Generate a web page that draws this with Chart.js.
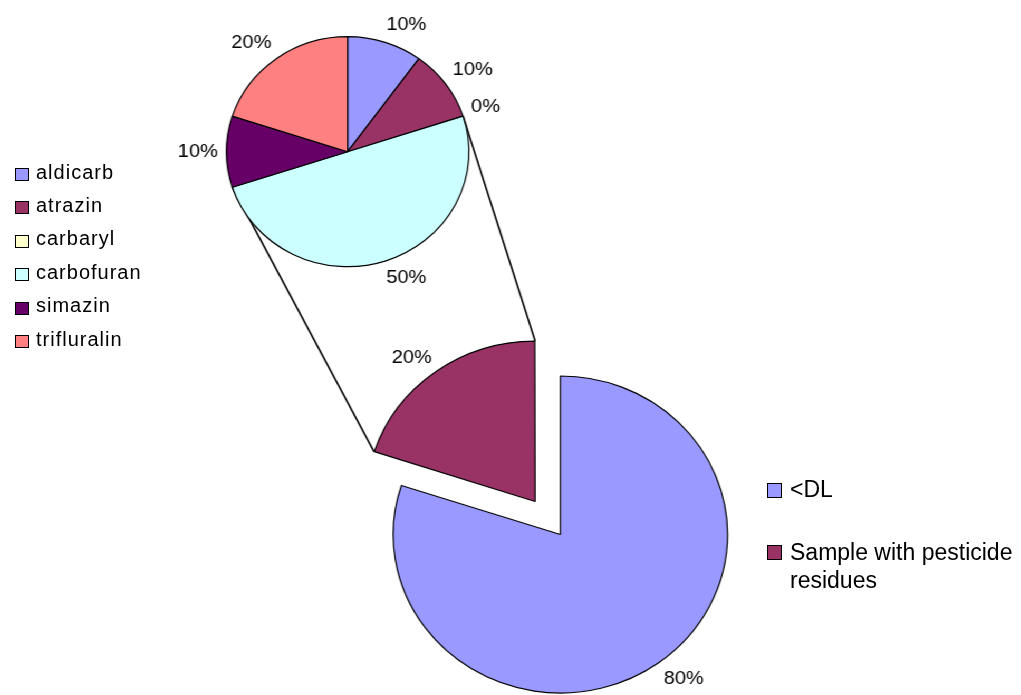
<!DOCTYPE html>
<html>
<head>
<meta charset="utf-8">
<script src="https://cdn.jsdelivr.net/npm/chart.js@4.4.1/dist/chart.umd.min.js"></script>
<style>
    body { margin: 0; background: #fff; font-family: "Liberation Sans", Arial, sans-serif; color: #000; }
    #stage { position: relative; width: 1021px; height: 695px; overflow: hidden; }
    /* the source picture is stretched a bit horizontally, so are the pies */
    #plots { position: absolute; left: 0; top: 0; width: 968px; height: 695px; transform: scaleX(1.0548); transform-origin: 0 0; }
    #plots canvas { position: absolute; left: 0; top: 0; }
    .legend-box { position: absolute; box-sizing: border-box; border: 1px solid #000; }
    .legend-text { position: absolute; white-space: normal; }
</style>
</head>
<body>
<div id="stage">
    <div id="plots">
        <canvas id="mainPie" width="968" height="695"></canvas>
        <canvas id="residuePie" width="968" height="320"></canvas>
    </div>
    <div id="residueLegend"></div>
    <div id="mainLegend"></div>
</div>
<script>
// Data
const mainLabels = ['<DL', 'Sample with pesticide residues'];
const mainValues = [80, 20];

const residueLabels = ['aldicarb', 'atrazin', 'carbaryl', 'carbofuran', 'simazin', 'trifluralin'];
const residueValues = [10, 10, 0, 50, 10, 20];

// Styles
const mainColors = ['#9999FF', '#993366'];
const residueColors = ['#9999FF', '#993366', '#FFFFCC', '#CCFFFF', '#660066', '#FF8080'];

function clamp(v) { return Math.max(-1, Math.min(1, v)); }

// Percent labels outside each slice (box corner sits next to the rim, like Excel)
const pctLabels = {
    id: 'pctLabels',
    afterDatasetsDraw(chart) {
        const ctx = chart.ctx;
        const meta = chart.getDatasetMeta(0);
        const values = chart.data.datasets[0].data;
        const total = values.reduce((a, b) => a + b, 0);
        const fontSize = 19;
        ctx.save();
        ctx.font = fontSize + 'px "Liberation Sans", Arial, sans-serif';
        ctx.fillStyle = '#000';
        ctx.textAlign = 'center';
        ctx.textBaseline = 'middle';
        meta.data.forEach((arc, i) => {
            const mid = (arc.startAngle + arc.endAngle) / 2;
            const shift = (arc.options.offset || 0) / 4;
            const dist = arc.outerRadius + 8 + shift;
            const text = Math.round(values[i] / total * 100) + '%';
            const w = ctx.measureText(text).width;
            const cx = Math.cos(mid), sy = Math.sin(mid);
            const x = arc.x + cx * dist + clamp(cx * 3) * w / 2;
            const y = arc.y + sy * dist + clamp(sy * 2.5) * fontSize / 2;
            ctx.fillText(text, x, y);
        });
        ctx.restore();
    }
};

// Small pie (breakdown of the residues)
const residueChart = new Chart(document.getElementById('residuePie'), {
    type: 'pie',
    data: {
        labels: residueLabels,
        datasets: [{
            data: residueValues,
            backgroundColor: residueColors,
            borderColor: '#000',
            borderWidth: 1.2,
            clip: false
        }]
    },
    options: {
        responsive: false,
        animation: false,
        radius: 115,
        layout: { padding: { left: 0, right: 308.8, top: 0, bottom: 16.6 } },
        plugins: { legend: { display: false }, tooltip: { enabled: false } }
    },
    plugins: [pctLabels]
});

// Lines from the exploded slice to the small pie
const connectors = {
    id: 'connectors',
    afterDatasetsDraw(chart) {
        const big = chart.getDatasetMeta(0).data[1];
        const small = residueChart.getDatasetMeta(0).data[3];
        const ctx = chart.ctx;

        const shift = (big.options.offset || 0) / 4;
        const mid = (big.startAngle + big.endAngle) / 2;
        const circ = big.endAngle - big.startAngle;
        const bx = big.x + Math.cos(mid) * shift;
        const by = big.y + Math.sin(mid) * shift;
        const br = big.outerRadius + shift * (1 - Math.sin(Math.min(Math.PI, circ)));

        const pairs = [
            [big.startAngle, small.endAngle],
            [big.endAngle, small.startAngle]
        ];

        ctx.save();
        ctx.strokeStyle = '#000';
        ctx.lineWidth = 1.6;
        pairs.forEach(([a, b]) => {
            ctx.beginPath();
            ctx.moveTo(bx + Math.cos(a) * br, by + Math.sin(a) * br);
            ctx.lineTo(small.x + Math.cos(b) * small.outerRadius, small.y + Math.sin(b) * small.outerRadius);
            ctx.stroke();
        });
        ctx.restore();
    }
};

// Big pie
new Chart(document.getElementById('mainPie'), {
    type: 'pie',
    data: {
        labels: mainLabels,
        datasets: [{
            data: mainValues,
            backgroundColor: mainColors,
            borderColor: '#000',
            borderWidth: 1.2,
            offset: [0, 163],
            clip: false
        }]
    },
    options: {
        responsive: false,
        animation: false,
        radius: 158.5,
        layout: { padding: { left: 94.6, right: 0, top: 374, bottom: 0 } },
        plugins: { legend: { display: false }, tooltip: { enabled: false } }
    },
    plugins: [pctLabels, connectors]
});

// Legends
function buildLegend(el, labels, colors, opt) {
    labels.forEach((label, i) => {
        const cy = opt.firstY + opt.step * i;
        const box = document.createElement('div');
        box.className = 'legend-box';
        box.style.left = opt.boxX + 'px';
        box.style.top = (cy - opt.boxH / 2) + 'px';
        box.style.width = opt.boxW + 'px';
        box.style.height = opt.boxH + 'px';
        box.style.background = colors[i];
        el.appendChild(box);

        const txt = document.createElement('div');
        txt.className = 'legend-text';
        txt.innerText = label;
        txt.style.left = opt.textX + 'px';
        txt.style.top = (cy - opt.lineH / 2 + opt.textDy) + 'px';
        txt.style.fontSize = opt.fontSize + 'px';
        txt.style.lineHeight = opt.lineH + 'px';
        txt.style.letterSpacing = opt.spacing + 'px';
        if (opt.width) txt.style.width = opt.width + 'px';
        el.appendChild(txt);
    });
}

buildLegend(document.getElementById('residueLegend'), residueLabels, residueColors, {
    firstY: 174.5, step: 33.4, boxX: 15, boxW: 14, boxH: 13,
    textX: 36, fontSize: 20, lineH: 20, textDy: -3, spacing: 1
});

buildLegend(document.getElementById('mainLegend'), mainLabels, mainColors, {
    firstY: 490, step: 62.5, boxX: 767, boxW: 15, boxH: 15,
    textX: 790, fontSize: 23, lineH: 28, textDy: -1, spacing: 0, width: 228
});
</script>
</body>
</html>
